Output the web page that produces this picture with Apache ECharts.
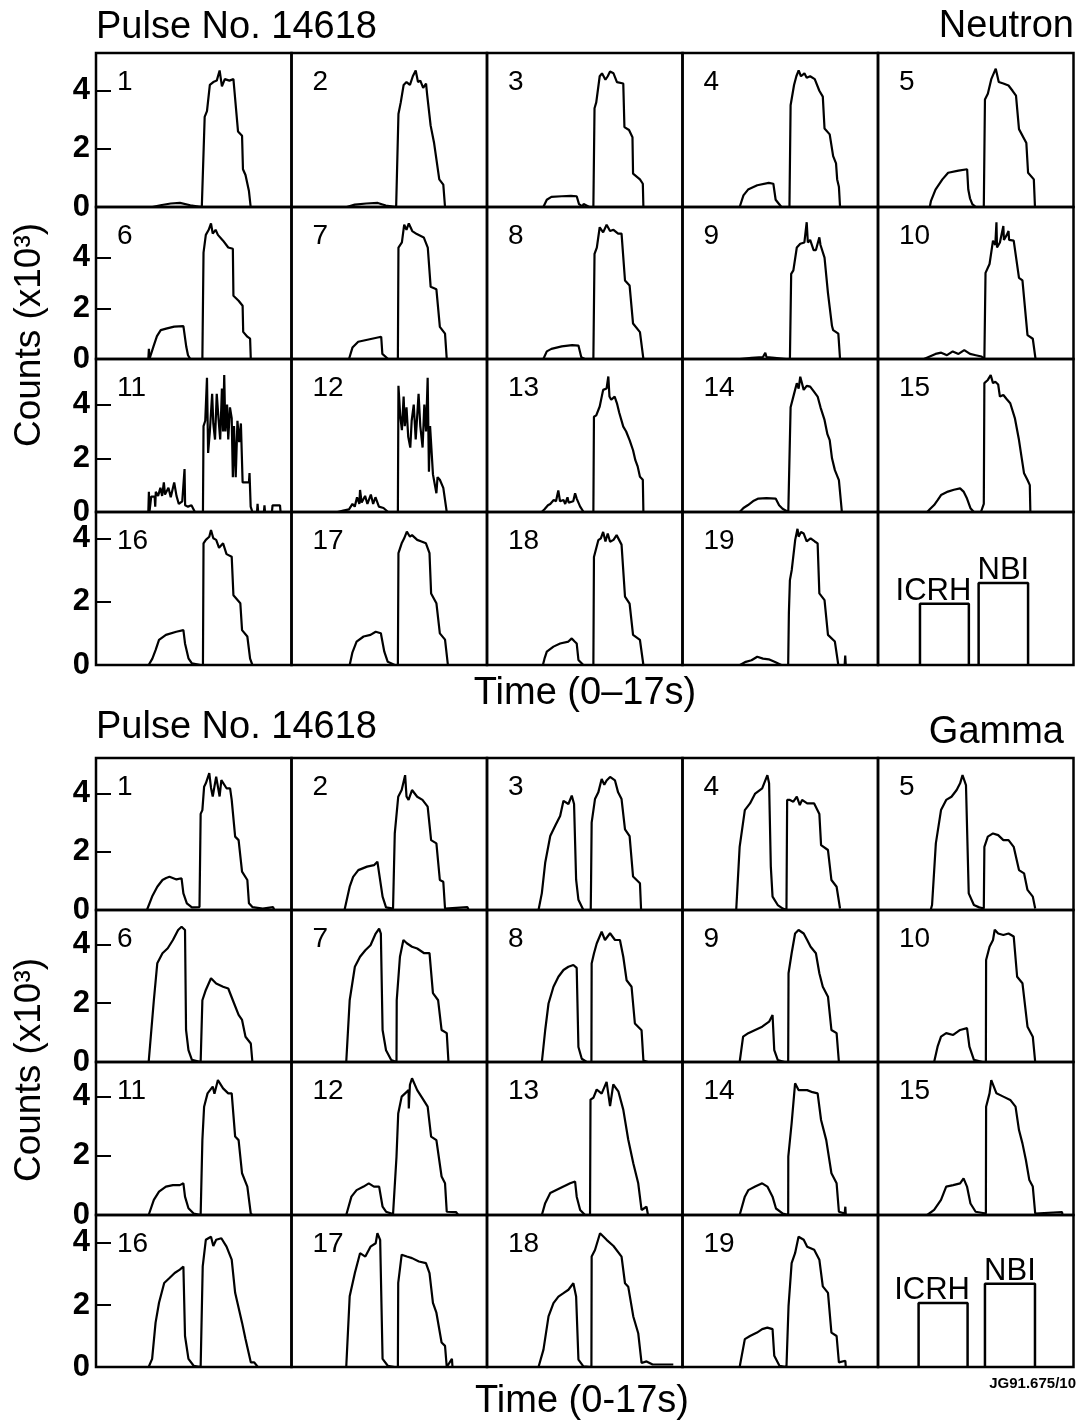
<!DOCTYPE html>
<html><head><meta charset="utf-8">
<script src="https://cdn.jsdelivr.net/npm/echarts@6/dist/echarts.min.js"></script>
<style>html,body{margin:0;padding:0;background:#fff}#c{width:1080px;height:1427px}</style>
</head><body><div id="c"></div>
<script>
// ---------- DATA (time in s, counts in units of 10^3) ----------
const panelLabels = ['1','2','3','4','5','6','7','8','9','10','11','12','13','14','15','16','17','18','19'];
const yTickValues = [0, 2, 4];
const yMinorTicks = [2, 4];
const timeRange = [0, 17];
const topRowMax = [5.3, 6.0, 5.7, 4.83];
const bottomRowMax = [5.22, 5.17, 5.17, 4.9];

const neutron1 = [[4.9,0],[5.6,0.06],[6.5,0.12],[7.3,0.14],[8.2,0.06],[9.2,0],[9.35,0],[9.45,3.1],[9.65,3.3],[9.9,4.2],[10.2,4.3],[10.5,4.35],[10.75,4.7],[10.95,4.15],[11.2,4.4],[11.6,4.35],[11.95,4.4],[12.05,3.95],[12.35,2.6],[12.7,2.45],[12.78,1.3],[13.0,1.1],[13.3,0.55],[13.45,0]];
const neutron2 = [[4.8,0],[5.5,0.08],[6.5,0.12],[7.5,0.14],[8.2,0.05],[9.1,0],[9.15,0],[9.3,3.2],[9.5,3.6],[9.75,4.2],[10.0,4.3],[10.3,4.2],[10.55,4.5],[10.8,4.7],[11.0,4.3],[11.2,4.35],[11.45,4.1],[11.7,4.25],[11.8,3.85],[12.1,2.8],[12.4,2.2],[12.85,0.95],[13.2,0.77],[13.35,0]];
const neutron3 = [[4.9,0],[5.2,0.25],[5.6,0.35],[6.5,0.37],[7.3,0.38],[7.8,0.37],[8.0,0.1],[8.3,0.02],[8.4,0.1],[8.9,0],[9.25,0],[9.35,3.4],[9.5,3.6],[9.8,4.5],[10.0,4.6],[10.3,4.38],[10.5,4.5],[10.7,4.66],[11.0,4.6],[11.3,4.3],[11.85,4.25],[11.95,2.75],[12.35,2.65],[12.65,2.4],[12.7,1.15],[13.3,0.95],[13.55,0.8],[13.6,0]];
const neutron4 = [[4.97,0],[5.3,0.4],[5.7,0.6],[6.5,0.75],[7.5,0.83],[7.9,0.8],[8.1,0.25],[8.6,0],[9.3,0],[9.4,3.5],[9.7,4.2],[9.9,4.5],[10.1,4.7],[10.3,4.5],[10.6,4.6],[10.8,4.45],[11.1,4.5],[11.5,4.4],[11.9,4.0],[12.2,3.8],[12.35,2.7],[12.8,2.5],[13.1,1.75],[13.35,1.5],[13.45,0.95],[13.6,0.7],[13.7,0]];
const neutron5 = [[4.5,0],[4.6,0.2],[5.0,0.6],[5.6,0.95],[6.1,1.18],[7.0,1.25],[7.75,1.3],[7.85,0.6],[8.0,0.3],[8.2,0.1],[8.5,0],[9.2,0],[9.3,3.7],[9.55,3.9],[9.85,4.4],[10.24,4.76],[10.5,4.3],[10.9,4.25],[11.35,4.18],[11.7,4.0],[12.0,3.83],[12.26,2.68],[12.9,2.2],[13.05,1.18],[13.55,0.95],[13.65,0]];
const neutron6 = [[4.55,0],[4.6,0.4],[4.65,0],[5.0,0.5],[5.3,0.9],[5.63,1.14],[6.1,1.2],[6.8,1.28],[7.6,1.3],[7.75,1.25],[7.85,0.48],[8.0,0.15],[8.2,0],[9.25,0],[9.35,4.2],[9.55,4.9],[9.8,5.1],[10.0,5.35],[10.15,4.95],[10.4,5.1],[10.6,4.9],[11.05,4.67],[11.5,4.4],[11.9,4.35],[11.95,2.5],[12.4,2.3],[12.75,2.1],[12.8,1.07],[13.16,0.88],[13.4,0.8],[13.46,0]];
const neutron7 = [[5.0,0],[5.3,0.45],[5.8,0.68],[6.5,0.75],[7.2,0.82],[7.8,0.88],[7.9,0.2],[8.4,0],[9.25,0],[9.3,4.4],[9.6,4.6],[9.8,5.3],[10.0,5.1],[10.2,5.35],[10.5,5.05],[10.9,4.93],[11.5,4.8],[11.85,4.4],[12.1,2.85],[12.6,2.75],[12.9,1.27],[13.35,1.0],[13.5,0]];
const neutron8 = [[4.9,0],[5.2,0.3],[5.6,0.4],[6.5,0.5],[7.4,0.55],[7.95,0.53],[8.2,0.07],[8.5,0],[9.25,0],[9.35,4.15],[9.55,4.4],[9.8,5.2],[10.1,5.0],[10.4,5.3],[10.7,5.05],[11.0,5.1],[11.4,4.95],[11.7,4.95],[12.0,3.1],[12.4,2.9],[12.7,1.4],[13.3,1.06],[13.6,0]];
const neutron9 = [[5.0,0],[6.0,0.05],[7.0,0.08],[7.2,0.25],[7.3,0.08],[8.0,0.05],[9.0,0],[9.34,0],[9.45,3.36],[9.64,3.5],[9.94,4.4],[10.24,4.55],[10.6,4.6],[10.8,5.4],[10.9,4.6],[11.1,4.7],[11.4,4.3],[11.6,4.3],[11.9,4.8],[12.0,4.5],[12.35,4.0],[12.65,2.6],[13.0,1.3],[13.1,1.14],[13.55,1.0],[13.7,0]];
const neutron10 = [[4.0,0],[4.5,0.1],[5.0,0.2],[5.5,0.25],[6.0,0.15],[6.5,0.3],[7.0,0.2],[7.5,0.35],[8.0,0.2],[8.5,0.15],[9.0,0.1],[9.25,0],[9.35,3.4],[9.7,3.75],[10.0,4.67],[10.2,4.5],[10.3,5.4],[10.35,4.4],[10.6,4.6],[10.9,5.25],[10.95,4.7],[11.2,4.9],[11.35,5.05],[11.4,4.7],[11.8,4.67],[12.26,3.2],[12.56,3.1],[13.0,0.94],[13.46,0.8],[13.7,0]];
const neutron11 = [[4.55,0],[4.6,0.75],[4.65,0],[4.75,0],[4.8,0.57],[5.1,0.57],[5.15,0.2],[5.2,0.75],[5.4,0.6],[5.6,0.9],[5.75,0.6],[5.9,1.1],[6.0,0.65],[6.3,0.9],[6.5,0.55],[6.8,1.1],[7.0,0.6],[7.2,0.3],[7.5,0.4],[7.7,1.6],[7.75,0.25],[8.0,0.2],[8.3,0.25],[8.6,0],[9.3,0],[9.35,3.2],[9.5,3.4],[9.65,5.0],[9.75,2.2],[9.9,3.0],[10.1,4.4],[10.2,3.3],[10.35,2.7],[10.5,4.4],[10.65,3.5],[10.8,2.7],[10.95,4.6],[11.05,3.0],[11.15,5.1],[11.25,3.0],[11.4,4.0],[11.5,2.7],[11.65,3.9],[11.8,3.5],[11.9,1.3],[12.0,3.2],[12.15,1.3],[12.3,3.4],[12.45,2.6],[12.6,3.3],[12.75,1.1],[13.0,1.1],[13.3,1.1],[13.35,1.45],[13.45,0.2],[13.6,0],[14.0,0],[14.05,0.3],[14.1,0],[14.6,0],[14.65,0.25],[14.7,0],[15.3,0],[15.35,0.25],[16.0,0.25],[16.05,0]];
const neutron12 = [[4.0,0],[4.5,0.05],[5.0,0.1],[5.3,0.3],[5.5,0.2],[5.7,0.55],[5.9,0.3],[5.96,0.82],[6.1,0.35],[6.4,0.6],[6.6,0.3],[6.9,0.65],[7.1,0.3],[7.3,0.55],[7.6,0.2],[8.0,0.15],[8.4,0],[9.25,0],[9.3,4.7],[9.45,3.6],[9.6,3.05],[9.75,4.3],[9.85,3.2],[10.0,3.9],[10.15,2.8],[10.33,2.4],[10.45,3.4],[10.63,4.0],[10.8,2.7],[10.93,2.68],[11.05,4.4],[11.2,3.2],[11.4,2.4],[11.55,4.0],[11.7,3.0],[11.84,5.0],[11.95,1.5],[12.05,3.2],[12.3,1.4],[12.45,1.4],[12.6,0.7],[12.7,1.3],[12.9,1.2],[13.2,0.9],[13.5,0]];
const neutron13 = [[4.75,0],[5.0,0.1],[5.3,0.25],[5.5,0.3],[5.8,0.45],[6.0,0.4],[6.2,0.8],[6.35,0.4],[6.65,0.45],[6.8,0.3],[7.0,0.55],[7.1,0.35],[7.5,0.4],[7.66,0.7],[7.8,0.5],[8.1,0.2],[8.4,0],[9.25,0],[9.3,3.55],[9.5,3.6],[9.8,3.93],[10.1,4.55],[10.4,4.6],[10.55,5.05],[10.65,4.3],[10.8,4.18],[11.1,4.3],[11.3,4.05],[11.5,3.7],[11.85,3.18],[12.1,3.0],[12.4,2.68],[12.7,2.3],[12.9,1.93],[13.1,1.7],[13.3,1.31],[13.55,1.2],[13.6,0]];
const neutron14 = [[4.97,0],[5.3,0.15],[5.7,0.26],[6.2,0.42],[6.6,0.5],[7.3,0.52],[8.1,0.5],[8.4,0.25],[8.7,0.12],[9.2,0],[9.34,0],[9.4,3.9],[9.7,4.4],[9.94,4.8],[10.1,4.6],[10.24,5.04],[10.54,4.55],[10.8,4.7],[11.1,4.67],[11.4,4.5],[11.75,4.3],[12.0,3.9],[12.35,3.43],[12.6,2.9],[12.8,2.68],[13.0,2.0],[13.25,1.56],[13.6,1.19],[13.86,0]];
const neutron15 = [[4.28,0],[4.5,0.1],[4.88,0.26],[5.2,0.45],[5.48,0.63],[6.08,0.76],[6.6,0.83],[7.14,0.88],[7.44,0.76],[7.74,0.5],[8.04,0.14],[8.34,0],[8.95,0],[9.2,0.3],[9.25,4.8],[9.55,4.92],[9.8,5.1],[10.0,4.8],[10.2,4.85],[10.45,4.75],[10.6,4.3],[10.9,4.36],[11.2,4.2],[11.5,4.05],[11.9,3.5],[12.26,2.68],[12.5,2.0],[12.7,1.44],[13.0,1.19],[13.2,1.0],[13.25,0]];
const neutron16 = [[4.58,0],[4.9,0.2],[5.18,0.47],[5.48,0.79],[6.08,0.95],[6.98,1.05],[7.6,1.1],[7.74,0.68],[8.04,0.21],[8.34,0.05],[9.1,0],[9.3,0],[9.35,3.84],[9.55,3.95],[9.85,4.05],[10.0,4.26],[10.2,4.0],[10.45,3.95],[10.7,3.7],[11.05,3.84],[11.35,3.5],[11.8,3.42],[11.95,2.2],[12.55,1.95],[12.7,1.1],[13.16,0.9],[13.4,0.2],[13.6,0]];
const neutron17 = [[5.06,0],[5.3,0.4],[5.66,0.74],[6.27,0.9],[6.87,0.95],[7.32,1.05],[7.77,1.0],[8.07,0.42],[8.37,0.1],[8.98,0],[9.25,0],[9.3,3.53],[9.58,3.84],[9.8,4.0],[10.03,4.21],[10.3,4.05],[10.48,4.1],[10.93,3.95],[11.3,3.9],[11.69,3.84],[12.0,3.53],[12.14,2.26],[12.6,1.95],[12.9,1.0],[13.35,0.8],[13.6,0]];
const neutron18 = [[4.86,0],[5.0,0.2],[5.2,0.42],[5.78,0.58],[6.36,0.68],[7.08,0.74],[7.37,0.84],[7.6,0.75],[7.8,0.68],[7.95,0.16],[8.38,0],[9.25,0],[9.3,3.41],[9.68,3.94],[9.9,4.0],[10.1,4.2],[10.3,3.9],[10.5,4.15],[10.7,3.89],[11.0,3.95],[11.27,4.1],[11.7,3.8],[12.0,2.16],[12.4,1.94],[12.7,0.95],[13.3,0.79],[13.6,0]];
const neutron19 = [[5.0,0],[5.5,0.1],[6.0,0.15],[6.5,0.26],[7.0,0.2],[7.5,0.18],[8.0,0.1],[8.6,0],[9.19,0],[9.25,1.63],[9.34,2.68],[9.5,3.0],[9.8,3.95],[10.0,4.3],[10.1,4.05],[10.3,4.2],[10.54,4.15],[10.8,3.9],[11.14,4.0],[11.5,3.9],[11.75,3.84],[11.9,2.26],[12.35,2.05],[12.65,0.95],[13.25,0.74],[13.55,0],[14.1,0],[14.15,0.3],[14.2,0]];

const gamma1 = [[4.43,0],[4.88,0.46],[5.33,0.8],[5.78,1.03],[6.1,1.1],[6.39,1.14],[7.0,1.05],[7.44,1.09],[7.6,0.57],[7.9,0.23],[8.34,0.09],[9.0,0.1],[9.1,3.3],[9.25,3.43],[9.4,4.23],[9.55,4.35],[9.85,4.7],[10.0,4.2],[10.15,3.9],[10.45,4.58],[10.75,3.9],[10.9,4.46],[11.35,4.18],[11.66,4.18],[11.8,3.78],[12.1,2.52],[12.4,2.4],[12.7,1.32],[13.16,1.03],[13.3,0.23],[13.6,0.1],[14.5,0.05],[15.4,0.1],[15.5,0]];
const gamma2 = [[4.61,0],[5.06,0.8],[5.36,1.14],[5.81,1.37],[6.57,1.49],[7.17,1.54],[7.47,1.66],[7.62,1.26],[7.92,0.46],[8.22,0.09],[8.83,0.05],[8.98,2.63],[9.28,3.89],[9.58,4.12],[9.88,4.63],[10.0,3.9],[10.18,3.78],[10.48,4.12],[10.93,3.89],[11.39,3.78],[11.84,3.55],[12.14,2.4],[12.6,2.29],[12.9,1.03],[13.2,0.97],[13.35,0.05],[15.3,0.1],[15.4,0]];
const gamma3 = [[4.48,0],[4.77,0.58],[5.06,1.62],[5.5,2.54],[5.93,2.89],[6.36,3.23],[6.65,3.75],[7.08,3.64],[7.37,3.93],[7.57,3.64],[7.75,1.04],[7.95,0.35],[8.38,0],[9.02,0],[9.05,1.0],[9.1,3.0],[9.39,3.81],[9.68,4.04],[9.97,4.5],[10.2,4.3],[10.4,4.45],[10.7,4.57],[11.13,4.45],[11.4,4.04],[11.7,3.81],[12.0,2.77],[12.4,2.54],[12.7,1.15],[13.3,0.92],[13.4,0]];
const gamma4 = [[4.67,0],[4.97,2.17],[5.42,3.43],[5.87,3.66],[6.32,4.0],[6.93,4.18],[7.38,4.63],[7.53,4.35],[7.68,1.49],[7.83,0.46],[8.28,0.17],[8.73,0.05],[9.04,0],[9.1,3.78],[9.34,3.78],[9.64,3.72],[9.94,3.89],[10.2,3.6],[10.4,3.78],[10.84,3.66],[11.45,3.66],[11.9,3.3],[12.05,2.23],[12.65,2.06],[12.95,1.03],[13.4,0.8],[13.7,0.05]];
const gamma5 = [[4.58,0],[4.7,0.17],[5.03,2.29],[5.48,3.43],[5.93,3.78],[6.39,3.89],[6.84,4.12],[7.14,4.35],[7.35,4.63],[7.65,4.29],[7.89,0.57],[8.34,0.17],[8.8,0.09],[9.2,0.05],[9.25,2.17],[9.55,2.52],[10.0,2.63],[10.45,2.57],[10.9,2.4],[11.35,2.4],[11.8,2.17],[12.26,1.37],[12.7,1.26],[13.0,0.69],[13.46,0.46],[13.67,0.05]];
const gamma6 = [[4.58,0],[5.03,2.1],[5.33,3.36],[5.78,3.7],[6.24,3.87],[6.69,4.15],[7.14,4.49],[7.44,4.6],[7.74,4.49],[7.83,1.09],[8.04,0.4],[8.34,0.07],[9.1,0],[9.25,2.1],[9.55,2.45],[10.0,2.85],[10.45,2.67],[11.05,2.56],[11.5,2.5],[11.95,2.05],[12.4,1.6],[12.7,1.43],[13.0,0.86],[13.46,0.63],[13.6,0]];
const gamma7 = [[4.76,0],[5.06,2.1],[5.51,3.24],[5.96,3.58],[6.42,3.8],[6.87,3.97],[7.32,4.37],[7.62,4.54],[7.77,4.37],[7.92,1.09],[8.22,0.4],[8.67,0.07],[9.13,0],[9.15,2.1],[9.43,3.58],[9.73,4.15],[10.03,4.04],[10.48,3.92],[10.93,3.86],[11.54,3.7],[12.0,3.7],[12.3,2.34],[12.75,2.1],[13.05,1.09],[13.5,0.98],[13.65,0]];
const gamma8 = [[4.77,0],[5.06,1.08],[5.35,1.99],[5.78,2.56],[6.21,2.9],[6.65,3.13],[7.08,3.24],[7.51,3.3],[7.8,3.2],[7.95,0.51],[8.24,0.11],[8.67,0],[9.08,0],[9.1,3.35],[9.3,3.69],[9.54,4.03],[9.97,4.43],[10.26,4.15],[10.7,4.38],[11.13,4.15],[11.56,4.15],[11.85,3.58],[12.14,2.78],[12.57,2.56],[12.86,1.31],[13.44,1.08],[13.6,0.05],[14.0,0]];
const gamma9 = [[4.97,0],[5.27,0.86],[5.72,0.98],[6.32,1.09],[6.93,1.2],[7.53,1.37],[7.83,1.6],[7.98,0.4],[8.28,0.07],[8.88,0],[9.19,0],[9.22,3.02],[9.49,3.7],[9.79,4.37],[10.09,4.49],[10.54,4.37],[10.84,4.15],[11.14,3.92],[11.6,3.7],[11.9,3.02],[12.2,2.56],[12.65,2.22],[12.95,1.09],[13.4,0.98],[13.6,0]];
const gamma10 = [[4.88,0],[5.18,0.52],[5.48,0.86],[5.93,0.98],[6.54,0.92],[7.14,1.09],[7.74,1.15],[7.95,0.52],[8.34,0.07],[9.1,0],[9.38,0],[9.4,3.47],[9.7,3.92],[10.0,4.15],[10.15,4.5],[10.45,4.37],[10.9,4.32],[11.35,4.37],[11.8,4.27],[12.1,2.9],[12.56,2.68],[13.0,1.2],[13.46,0.86],[13.67,0]];
const gamma11 = [[4.58,0],[5.03,0.51],[5.48,0.79],[6.08,0.96],[6.69,1.01],[7.29,1.01],[7.6,1.07],[7.74,0.62],[8.04,0.23],[8.49,0.05],[9.1,0],[9.25,2.53],[9.4,3.66],[9.7,4.11],[10.15,4.34],[10.3,4.1],[10.6,4.56],[11.05,4.28],[11.5,4.11],[11.8,4.11],[12.1,2.65],[12.4,2.53],[12.7,1.41],[13.16,0.96],[13.46,0.05],[13.6,0]];
const gamma12 = [[4.76,0],[5.21,0.62],[5.66,0.84],[6.27,0.96],[6.72,1.07],[7.17,0.96],[7.62,0.96],[7.92,0.28],[8.22,0.11],[8.83,0.03],[9.13,1.97],[9.28,3.43],[9.58,4.0],[10.18,4.22],[10.2,3.6],[10.3,4.4],[10.48,4.62],[10.93,4.22],[11.39,3.94],[11.84,3.66],[12.14,2.65],[12.6,2.53],[13.05,1.3],[13.35,1.07],[13.5,0.11],[14.3,0.1],[14.4,0.15],[14.5,0]];
const gamma13 = [[4.77,0],[5.06,0.4],[5.5,0.74],[6.07,0.85],[6.65,0.96],[7.23,1.07],[7.66,1.13],[7.8,0.62],[8.1,0.17],[8.53,0],[8.96,0],[9.0,3.9],[9.25,3.96],[9.54,4.24],[9.97,4.1],[10.4,4.5],[10.7,3.68],[10.98,4.41],[11.42,4.18],[11.85,3.56],[12.28,2.55],[12.72,1.75],[13.15,1.07],[13.44,0.17],[13.87,0.28],[14.0,0]];
const gamma14 = [[4.97,0],[5.42,0.62],[5.72,0.84],[6.32,0.96],[6.93,1.07],[7.38,0.96],[7.83,0.62],[8.13,0.22],[8.73,0.05],[9.19,0],[9.2,1.97],[9.49,3.1],[9.79,4.45],[10.09,4.22],[10.84,4.22],[11.3,4.15],[11.75,4.11],[12.05,3.21],[12.5,2.53],[12.95,1.41],[13.4,1.07],[13.6,0.11],[14.1,0.05],[14.16,0.28],[14.2,0]];
const gamma15 = [[4.28,0],[4.88,0.17],[5.48,0.51],[5.93,0.96],[6.54,1.01],[7.14,1.07],[7.44,1.24],[7.74,0.96],[8.04,0.39],[8.49,0.11],[9.38,0.05],[9.4,3.66],[9.7,4.11],[9.85,4.56],[10.3,4.11],[10.9,4.0],[11.5,3.89],[11.96,3.66],[12.26,2.87],[12.56,2.42],[12.86,1.86],[13.16,1.18],[13.46,0.96],[13.67,0.05],[16.0,0.1],[16.05,0]];
const gamma16 = [[4.58,0],[4.88,0.26],[5.18,1.43],[5.48,2.07],[5.93,2.71],[6.39,2.87],[6.84,3.03],[7.29,3.14],[7.6,3.24],[7.74,1.0],[8.04,0.26],[8.49,0.04],[9.1,0],[9.25,0],[9.28,3.24],[9.55,4.1],[10.0,4.2],[10.2,3.9],[10.45,4.1],[10.9,4.15],[11.35,3.88],[11.8,3.46],[12.1,2.39],[12.7,1.43],[13.0,0.9],[13.46,0.15],[13.76,0.15],[14.07,0]];
const gamma17 = [[4.76,0],[5.06,2.28],[5.51,3.03],[5.96,3.67],[6.42,3.56],[6.87,3.88],[7.32,3.99],[7.47,4.31],[7.71,4.1],[7.92,0.26],[8.37,0.04],[8.98,0],[9.25,0],[9.28,2.71],[9.58,3.62],[10.03,3.56],[10.48,3.51],[11.08,3.4],[11.69,3.35],[12.0,3.03],[12.3,2.07],[12.6,1.75],[13.05,0.79],[13.35,0.68],[13.5,0],[13.95,0.26],[14.0,0]];
const gamma18 = [[4.48,0],[4.91,0.56],[5.35,1.63],[5.78,2.06],[6.21,2.27],[6.65,2.38],[7.08,2.49],[7.51,2.7],[7.75,2.27],[7.95,0.24],[8.38,0.02],[9.08,0],[9.1,3.56],[9.39,3.77],[9.83,4.31],[10.4,4.1],[11.0,3.9],[11.7,3.56],[12.0,2.7],[12.28,2.59],[12.72,1.63],[13.15,1.09],[13.44,0.13],[13.87,0.18],[14.4,0.08],[16.2,0.08]];
const gamma19 = [[4.97,0],[5.42,0.9],[5.87,1.0],[6.48,1.11],[6.93,1.22],[7.38,1.27],[7.83,1.22],[7.98,0.36],[8.43,0.04],[9.04,0],[9.19,0],[9.22,1.96],[9.49,3.35],[9.79,3.67],[10.09,4.2],[10.54,4.1],[10.84,3.88],[11.45,3.78],[11.9,3.46],[12.2,2.6],[12.65,2.39],[12.95,1.11],[13.4,1.0],[13.6,0.15],[14.16,0.2],[14.2,0]];

// heating-scheme key (ICRH / NBI boxes), drawn in the 20th panel of each block
const icrhBoxNeutron = [[3.65,0],[3.65,1.93],[7.9,1.93],[7.9,0]];
const nbiBoxNeutron  = [[8.75,0],[8.75,2.59],[13.05,2.59],[13.05,0]];
const icrhBoxGamma   = [[3.53,0],[3.53,2.06],[7.79,2.06],[7.79,0]];
const nbiBoxGamma    = [[9.3,0],[9.3,2.68],[13.65,2.68],[13.65,0]];
const keyNames = ['ICRH', 'NBI'];

const neutronSeries = [neutron1,neutron2,neutron3,neutron4,neutron5,neutron6,neutron7,neutron8,neutron9,neutron10,neutron11,neutron12,neutron13,neutron14,neutron15,neutron16,neutron17,neutron18,neutron19];
const gammaSeries = [gamma1,gamma2,gamma3,gamma4,gamma5,gamma6,gamma7,gamma8,gamma9,gamma10,gamma11,gamma12,gamma13,gamma14,gamma15,gamma16,gamma17,gamma18,gamma19];

// ---------- LAYOUT ----------
const COL_LEFT = [96, 291.5, 487, 682.5, 878];
const COL_W = 195.5;
const TOP_EDGES = [53, 207, 359, 512, 665];
const BOT_EDGES = [758, 910, 1062, 1215, 1367];
const FONT = '"Liberation Sans", Arial, Helvetica, sans-serif';

const grids = [], xAxes = [], yAxes = [], series = [], graphics = [];

function addBlock(edges, rowMax, dataList, icrhBox, nbiBox) {
  for (let r = 0; r < 4; r++) {
    for (let c = 0; c < 5; c++) {
      const idx = grids.length;
      const p = r * 5 + c;
      grids.push({
        left: COL_LEFT[c], top: edges[r], width: COL_W, height: edges[r + 1] - edges[r],
        show: true, borderColor: '#000', borderWidth: 2.5, backgroundColor: 'transparent'
      });
      xAxes.push({ type: 'value', gridIndex: idx, min: timeRange[0], max: timeRange[1], show: false });
      yAxes.push({
        type: 'value', gridIndex: idx, min: 0, max: rowMax[r], interval: 2, show: c === 0,
        axisLine: { show: false }, splitLine: { show: false },
        axisTick: { show: true, inside: true, length: 15, customValues: yMinorTicks,
                    lineStyle: { color: '#000', width: 2 } },
        axisLabel: { show: true, customValues: yTickValues, color: '#000', fontSize: 31,
                     fontWeight: 'bold', fontFamily: FONT, margin: 6,
                     formatter: v => (v % 2 === 0 ? String(v) : '') }
      });
      if (p < 19) {
        series.push({
          type: 'line', xAxisIndex: idx, yAxisIndex: idx, data: dataList[p],
          showSymbol: false, symbol: 'none', silent: true, animation: false,
          lineStyle: { color: '#000', width: 2.2 }
        });
        graphics.push({
          type: 'text', x: COL_LEFT[c] + 21, y: edges[r] + 29, silent: true,
          style: { text: panelLabels[p], fill: '#000', font: '28px ' + FONT,
                   align: 'left', verticalAlign: 'middle', textAlign: 'left', textVerticalAlign: 'middle' }
        });
      } else {
        [icrhBox, nbiBox].forEach((box, k) => {
          series.push({
            type: 'line', xAxisIndex: idx, yAxisIndex: idx, data: box,
            showSymbol: false, symbol: 'none', silent: true, animation: false,
            lineStyle: { color: '#000', width: 2.5 }
          });
          const cx = (box[0][0] + box[3][0]) / 2;
          series.push({
            type: 'scatter', xAxisIndex: idx, yAxisIndex: idx, silent: true, animation: false,
            symbolSize: 0, data: [[cx, box[1][1]]],
            itemStyle: { color: '#000', opacity: 1 },
            label: { show: true, formatter: keyNames[k], position: 'top', distance: 0,
                     offset: k === 0 ? [-11, 3] : [0, 3], opacity: 1,
                     color: '#000', fontSize: 31, fontFamily: FONT }
          });
        });
      }
    }
  }
}
addBlock(TOP_EDGES, topRowMax, neutronSeries, icrhBoxNeutron, nbiBoxNeutron);
addBlock(BOT_EDGES, bottomRowMax, gammaSeries, icrhBoxGamma, nbiBoxGamma);

function txt(text, x, y, size, opts) {
  const o = Object.assign({ align: 'left', weight: 'normal', rotation: 0 }, opts || {});
  graphics.push({
    type: 'text', x: x, y: y, rotation: o.rotation, silent: true,
    style: { text: text, fill: '#000', font: o.weight + ' ' + size + 'px ' + FONT,
             align: o.align, verticalAlign: 'middle', textAlign: o.align, textVerticalAlign: 'middle' }
  });
}
txt('Pulse No. 14618', 96, 28, 38);
txt('Neutron', 1074, 27, 38, { align: 'right' });
txt('Time (0\u201317s)', 585, 694, 38, { align: 'center' });
txt('Counts (x10\u00b3)', 30, 335, 37, { align: 'center', rotation: Math.PI / 2 });
txt('Pulse No. 14618', 96, 728, 38);
txt('Gamma', 1064, 733, 38, { align: 'right' });
txt('Counts (x10\u00b3)', 30, 1070, 37, { align: 'center', rotation: Math.PI / 2 });
txt('Time (0-17s)', 582, 1402, 38, { align: 'center' });
txt('JG91.675/10', 1076, 1384, 15, { align: 'right', weight: 'bold' });

const chart = echarts.init(document.getElementById('c'), null, { renderer: 'canvas' });
chart.setOption({
  backgroundColor: '#fff',
  animation: false,
  grid: grids, xAxis: xAxes, yAxis: yAxes, series: series,
  graphic: { elements: graphics }
});
</script></body></html>
